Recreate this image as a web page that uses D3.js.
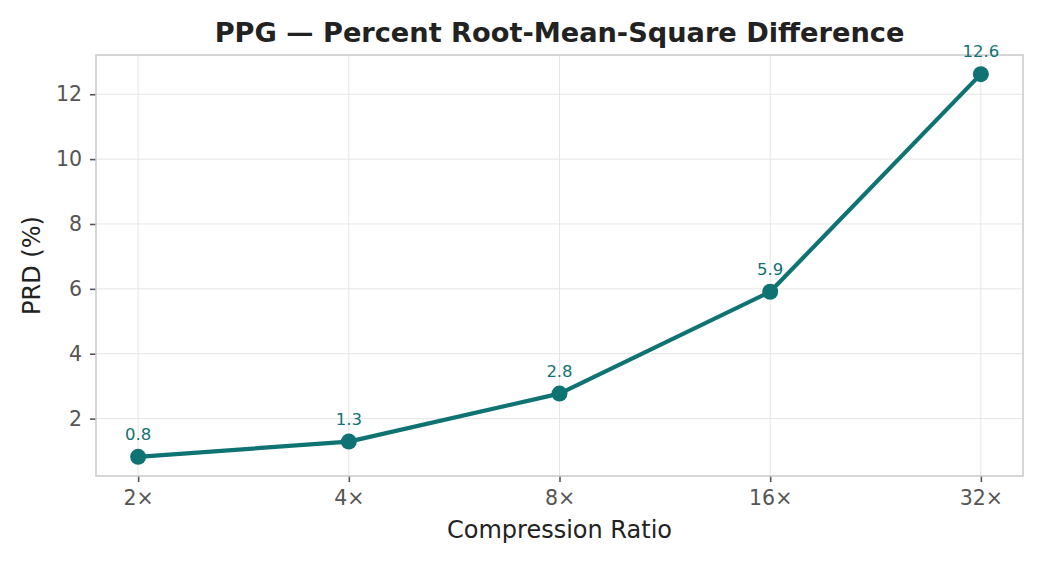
<!DOCTYPE html>
<html><head><meta charset="utf-8">
<script src="https://cdn.jsdelivr.net/npm/d3@7"></script>
<style>
html,body{margin:0;padding:0;background:#fff;}
svg{display:block;font-family:"DejaVu Sans",sans-serif;}
</style></head>
<body>
<svg id="chart" width="1045" height="565"></svg>
<script>
const categories = ["2×", "4×", "8×", "16×", "32×"];
const prdValues = [0.82, 1.29, 2.77, 5.91, 12.62];
const yTicks = [2, 4, 6, 8, 10, 12];
const titleText = "PPG — Percent Root-Mean-Square Difference";
const xLabel = "Compression Ratio";
const yLabel = "PRD (%)";

const color = "#107373";
const svg = d3.select("#chart");
const m = {left: 96, right: 1023, top: 55, bottom: 476};

const x = d3.scaleLinear().domain([-0.2, categories.length - 1 + 0.2]).range([m.left, m.right]);
const lo = d3.min(prdValues), hi = d3.max(prdValues), pad = (hi - lo) * 0.05;
const y = d3.scaleLinear().domain([lo - pad, hi + pad]).range([m.bottom, m.top]);

// grid
const g = svg.append("g");
g.selectAll(".gy").data(yTicks).join("line")
  .attr("x1", m.left).attr("x2", m.right)
  .attr("y1", d => y(d)).attr("y2", d => y(d))
  .attr("stroke", "#e5e5e5").attr("stroke-width", 1);
g.selectAll(".gx").data(categories).join("line")
  .attr("x1", (d, i) => x(i)).attr("x2", (d, i) => x(i))
  .attr("y1", m.top).attr("y2", m.bottom)
  .attr("stroke", "#e5e5e5").attr("stroke-width", 1);

// axes
const xAxis = d3.axisBottom(x).tickValues(d3.range(categories.length))
  .tickFormat(i => categories[i]).tickSize(6).tickPadding(8);
const yAxis = d3.axisLeft(y).tickValues(yTicks).tickFormat(d3.format("d")).tickSize(6).tickPadding(8);

const gx = svg.append("g").attr("transform", `translate(0,${m.bottom})`).call(xAxis);
const gy = svg.append("g").attr("transform", `translate(${m.left},0)`).call(yAxis);
[gx, gy].forEach(a => {
  a.select(".domain").remove();
  a.selectAll(".tick line").attr("stroke", "#555").attr("stroke-width", 1.6);
  a.selectAll(".tick text").attr("fill", "#555").style("font-size", "20.5px").style("font-family", "DejaVu Sans");
});

// frame
svg.append("rect").attr("x", m.left).attr("y", m.top)
  .attr("width", m.right - m.left).attr("height", m.bottom - m.top)
  .attr("fill", "none").attr("stroke", "#cccccc").attr("stroke-width", 1.6);

// line
const line = d3.line().x((d, i) => x(i)).y(d => y(d));
svg.append("path").datum(prdValues).attr("d", line)
  .attr("fill", "none").attr("stroke", color).attr("stroke-width", 4.2)
  .attr("stroke-linejoin", "round").attr("stroke-linecap", "round");

svg.selectAll(".pt").data(prdValues).join("circle")
  .attr("cx", (d, i) => x(i)).attr("cy", d => y(d)).attr("r", 8).attr("fill", color);

svg.selectAll(".lbl").data(prdValues).join("text")
  .attr("x", (d, i) => x(i)).attr("y", d => y(d) - 17)
  .attr("text-anchor", "middle").attr("fill", color)
  .style("font-size", "16.5px").text(d => d3.format(".1f")(d));

// titles
svg.append("text").attr("x", (m.left + m.right) / 2).attr("y", 42)
  .attr("text-anchor", "middle").attr("fill", "#222")
  .style("font-size", "27.2px").style("font-weight", "bold").text(titleText);
svg.append("text").attr("x", (m.left + m.right) / 2).attr("y", 538)
  .attr("text-anchor", "middle").attr("fill", "#222")
  .style("font-size", "24px").text(xLabel);
svg.append("text").attr("transform", `translate(40,${(m.top + m.bottom) / 2}) rotate(-90)`)
  .attr("text-anchor", "middle").attr("fill", "#222")
  .style("font-size", "24px").text(yLabel);
</script>
</body></html>
